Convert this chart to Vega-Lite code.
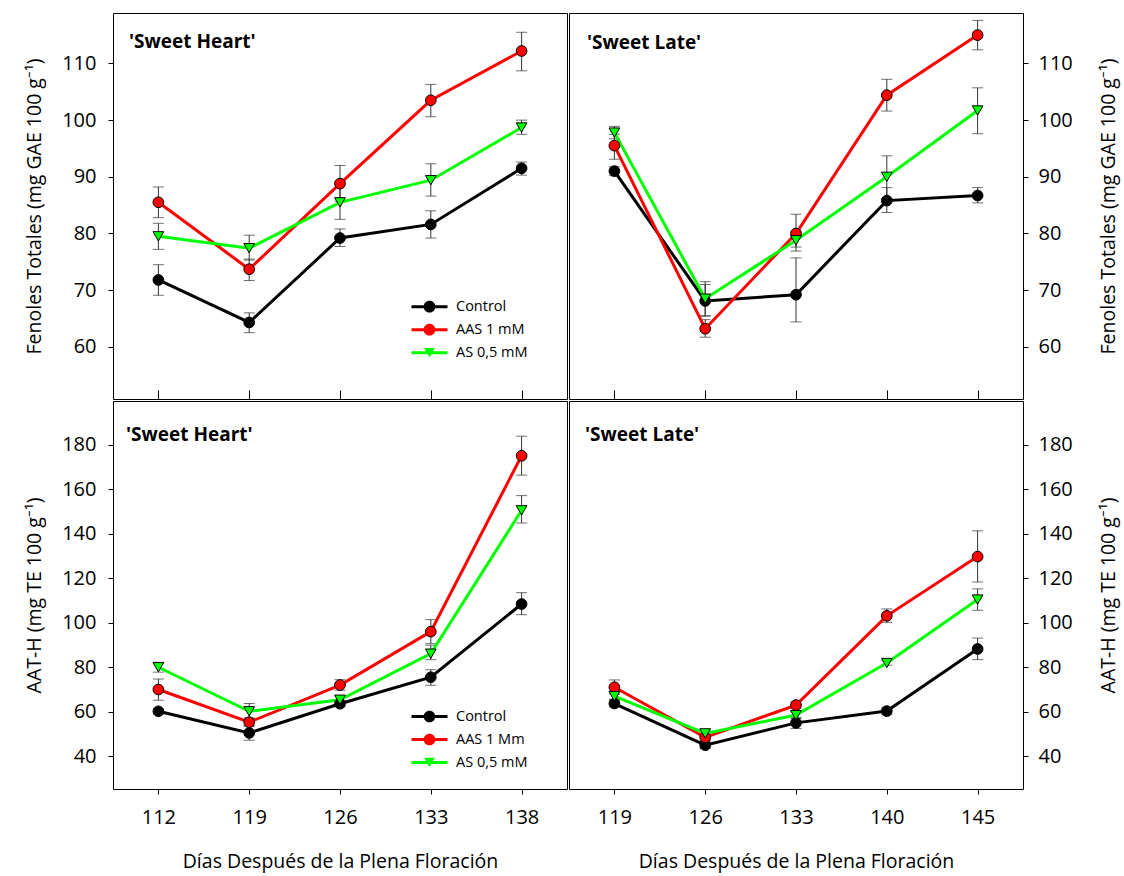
{
  "$schema": "https://vega.github.io/schema/vega-lite/v6.json",
  "background": "white",
  "padding": {"left": 24, "top": 12, "right": 6, "bottom": 4},
  "datasets": {
    "obs": [
      {"p":"SHF","d":112,"t":"Control","v":71.8,"lo":69.1,"hi":74.5},
      {"p":"SHF","d":119,"t":"Control","v":64.3,"lo":62.5,"hi":66.0},
      {"p":"SHF","d":126,"t":"Control","v":79.2,"lo":77.7,"hi":80.8},
      {"p":"SHF","d":133,"t":"Control","v":81.6,"lo":79.2,"hi":84.0},
      {"p":"SHF","d":138,"t":"Control","v":91.5,"lo":90.3,"hi":92.6},
      {"p":"SHF","d":112,"t":"AAS 1 mM","v":85.5,"lo":82.8,"hi":88.2},
      {"p":"SHF","d":119,"t":"AAS 1 mM","v":73.7,"lo":71.7,"hi":75.5},
      {"p":"SHF","d":126,"t":"AAS 1 mM","v":88.8,"lo":85.7,"hi":92.0},
      {"p":"SHF","d":133,"t":"AAS 1 mM","v":103.5,"lo":100.6,"hi":106.3},
      {"p":"SHF","d":138,"t":"AAS 1 mM","v":112.2,"lo":108.7,"hi":115.5},
      {"p":"SHF","d":112,"t":"AS 0,5 mM","v":79.5,"lo":77.2,"hi":81.8},
      {"p":"SHF","d":119,"t":"AS 0,5 mM","v":77.4,"lo":75.3,"hi":79.7},
      {"p":"SHF","d":126,"t":"AS 0,5 mM","v":85.5,"lo":82.5,"hi":88.5},
      {"p":"SHF","d":133,"t":"AS 0,5 mM","v":89.4,"lo":86.6,"hi":92.3},
      {"p":"SHF","d":138,"t":"AS 0,5 mM","v":98.7,"lo":97.5,"hi":100.0},

      {"p":"SLF","d":119,"t":"Control","v":91.0,"lo":90.2,"hi":91.8},
      {"p":"SLF","d":126,"t":"Control","v":68.1,"lo":65.5,"hi":71.0},
      {"p":"SLF","d":133,"t":"Control","v":69.2,"lo":64.4,"hi":75.7},
      {"p":"SLF","d":140,"t":"Control","v":85.8,"lo":83.7,"hi":88.1},
      {"p":"SLF","d":145,"t":"Control","v":86.7,"lo":85.4,"hi":88.1},
      {"p":"SLF","d":119,"t":"AAS 1 mM","v":95.5,"lo":93.1,"hi":97.5},
      {"p":"SLF","d":126,"t":"AAS 1 mM","v":63.2,"lo":61.7,"hi":64.8},
      {"p":"SLF","d":133,"t":"AAS 1 mM","v":80.0,"lo":76.9,"hi":83.4},
      {"p":"SLF","d":140,"t":"AAS 1 mM","v":104.4,"lo":101.6,"hi":107.2},
      {"p":"SLF","d":145,"t":"AAS 1 mM","v":115.0,"lo":112.4,"hi":117.6},
      {"p":"SLF","d":119,"t":"AS 0,5 mM","v":97.8,"lo":96.7,"hi":98.9},
      {"p":"SLF","d":126,"t":"AS 0,5 mM","v":68.5,"lo":65.4,"hi":71.5},
      {"p":"SLF","d":133,"t":"AS 0,5 mM","v":78.8,"lo":77.6,"hi":80.3},
      {"p":"SLF","d":140,"t":"AS 0,5 mM","v":90.0,"lo":86.2,"hi":93.7},
      {"p":"SLF","d":145,"t":"AS 0,5 mM","v":101.7,"lo":97.6,"hi":105.7},

      {"p":"SHA","d":112,"t":"Control","v":60.2,"lo":59.0,"hi":61.4},
      {"p":"SHA","d":119,"t":"Control","v":50.5,"lo":47.2,"hi":53.8},
      {"p":"SHA","d":126,"t":"Control","v":63.6,"lo":62.2,"hi":65.0},
      {"p":"SHA","d":133,"t":"Control","v":75.5,"lo":71.9,"hi":78.9},
      {"p":"SHA","d":138,"t":"Control","v":108.4,"lo":103.6,"hi":113.5},
      {"p":"SHA","d":112,"t":"AAS 1 Mm","v":70.0,"lo":65.2,"hi":74.7},
      {"p":"SHA","d":119,"t":"AAS 1 Mm","v":55.3,"lo":53.3,"hi":57.3},
      {"p":"SHA","d":126,"t":"AAS 1 Mm","v":72.0,"lo":69.7,"hi":74.4},
      {"p":"SHA","d":133,"t":"AAS 1 Mm","v":96.0,"lo":90.6,"hi":101.4},
      {"p":"SHA","d":138,"t":"AAS 1 Mm","v":175.0,"lo":166.3,"hi":183.8},
      {"p":"SHA","d":112,"t":"AS 0,5 mM","v":80.0,"lo":77.8,"hi":82.2},
      {"p":"SHA","d":119,"t":"AS 0,5 mM","v":60.2,"lo":56.8,"hi":63.7},
      {"p":"SHA","d":126,"t":"AS 0,5 mM","v":65.4,"lo":63.9,"hi":66.9},
      {"p":"SHA","d":133,"t":"AS 0,5 mM","v":86.1,"lo":83.4,"hi":89.9},
      {"p":"SHA","d":138,"t":"AS 0,5 mM","v":150.5,"lo":144.8,"hi":157.1},

      {"p":"SLA","d":119,"t":"Control","v":63.7,"lo":62.2,"hi":65.2},
      {"p":"SLA","d":126,"t":"Control","v":45.0,"lo":43.5,"hi":46.5},
      {"p":"SLA","d":133,"t":"Control","v":55.0,"lo":52.5,"hi":57.5},
      {"p":"SLA","d":140,"t":"Control","v":60.3,"lo":58.8,"hi":61.8},
      {"p":"SLA","d":145,"t":"Control","v":88.2,"lo":83.4,"hi":93.1},
      {"p":"SLA","d":119,"t":"AAS 1 Mm","v":71.0,"lo":67.9,"hi":74.3},
      {"p":"SLA","d":126,"t":"AAS 1 Mm","v":48.5,"lo":47.0,"hi":50.0},
      {"p":"SLA","d":133,"t":"AAS 1 Mm","v":63.0,"lo":61.5,"hi":64.5},
      {"p":"SLA","d":140,"t":"AAS 1 Mm","v":103.1,"lo":100.2,"hi":106.2},
      {"p":"SLA","d":145,"t":"AAS 1 Mm","v":129.7,"lo":118.3,"hi":141.3},
      {"p":"SLA","d":119,"t":"AS 0,5 mM","v":67.0,"lo":65.5,"hi":68.5},
      {"p":"SLA","d":126,"t":"AS 0,5 mM","v":50.3,"lo":48.8,"hi":51.8},
      {"p":"SLA","d":133,"t":"AS 0,5 mM","v":58.5,"lo":57.0,"hi":60.0},
      {"p":"SLA","d":140,"t":"AS 0,5 mM","v":81.9,"lo":80.9,"hi":82.9},
      {"p":"SLA","d":145,"t":"AS 0,5 mM","v":110.4,"lo":105.6,"hi":115.2}
    ]
  },
  "data": {"name": "obs"},
  "columns": 2,
  "spacing": 0,
  "concat": [
    {
      "width": 454, "height": 386,
      "title": {"text": "'Sweet Heart'", "anchor": "start", "frame": "group", "offset": -54, "dx": 16, "baseline": "alphabetic", "fontSize": 19, "fontWeight": "bold", "font": "Open Sans", "color": "black"},
      "transform": [{"filter": "datum.p === 'SHF'"}],
      "encoding": {"x": {"field": "d", "type": "ordinal", "scale": {"type": "point", "padding": 0.5}, "axis": {"labels": false, "title": null, "tickSize": -9}}},
      "layer": [
        {"mark": {"type": "errorbar", "ticks": {"size": 11, "color": "#333333"}, "rule": {"color": "#333333", "strokeWidth": 1}},
         "encoding": {"y": {"field": "lo", "type": "quantitative", "scale": {"domain": [50.8, 118.9], "nice": false, "zero": false}, "axis": {"values": [60,70,80,90,100,110], "title": "Fenoles Totales (mg GAE 100 g⁻¹)", "tickSize": 5, "labelPadding": 12, "titlePadding": 17}}, "y2": {"field": "hi"}}},
        {"mark": {"type": "line", "strokeWidth": 3},
         "encoding": {"y": {"field": "v", "type": "quantitative", "scale": {"domain": [50.8, 118.9], "nice": false, "zero": false}, "axis": {"values": [60,70,80,90,100,110], "title": "Fenoles Totales (mg GAE 100 g⁻¹)", "tickSize": 5, "labelPadding": 12, "titlePadding": 17}},
          "stroke": {"field": "t", "type": "nominal", "scale": {"range": ["#ff0000","#00ff00","#000000"]}, "legend": null}}},
        {"mark": {"type": "point", "filled": true, "opacity": 1, "size": 115, "stroke": "black", "strokeWidth": 1},
         "encoding": {"y": {"field": "v", "type": "quantitative", "scale": {"domain": [50.8, 118.9], "nice": false, "zero": false}, "axis": {"values": [60,70,80,90,100,110], "title": "Fenoles Totales (mg GAE 100 g⁻¹)", "tickSize": 5, "labelPadding": 12, "titlePadding": 17}},
          "color": {"field": "t", "type": "nominal", "scale": {"domain": ["Control","AAS 1 mM","AS 0,5 mM"], "range": ["#000000","#ff0000","#00ff00"]},
            "legend": {"orient": "none", "legendX": 307.5, "legendY": 284.7, "title": null, "padding": 0, "symbolSize": 324, "labelOffset": 17.5, "labelFont": "Open Sans", "labelFontSize": 14.5, "labelColor": "black", "rowPadding": 7, "labelLimit": 300,
              "encoding": {"symbols": {"shape": {"condition": {"test": "datum.value === 'AS 0,5 mM'", "value": "M-2,-0.167H2V0.167H-2Z M0,0.516L-0.596,-0.516L0.596,-0.516Z"}, "value": "M-2,-0.167H2V0.167H-2Z M-0.65,0A0.65,0.65,0,1,1,0.65,0A0.65,0.65,0,1,1,-0.65,0Z"}, "strokeWidth": {"value": 0}, "opacity": {"value": 1}}}}},
          "shape": {"field": "t", "type": "nominal", "scale": {"range": ["circle","triangle-down","circle"]}, "legend": null}}}
      ]
    },
    {
      "width": 454, "height": 386,
      "title": {"text": "'Sweet Late'", "anchor": "start", "frame": "group", "offset": -55, "dx": 18, "baseline": "alphabetic", "fontSize": 19, "fontWeight": "bold", "font": "Open Sans", "color": "black"},
      "transform": [{"filter": "datum.p === 'SLF'"}],
      "encoding": {"x": {"field": "d", "type": "ordinal", "scale": {"type": "point", "padding": 0.5}, "axis": {"labels": false, "title": null, "tickSize": -9}}},
      "layer": [
        {"mark": {"type": "errorbar", "ticks": {"size": 11, "color": "#333333"}, "rule": {"color": "#333333", "strokeWidth": 1}},
         "encoding": {"y": {"field": "lo", "type": "quantitative", "scale": {"domain": [50.8, 118.9], "nice": false, "zero": false}, "axis": {"orient": "right", "values": [60,70,80,90,100,110], "title": "Fenoles Totales (mg GAE 100 g⁻¹)", "tickSize": 5, "labelPadding": 10, "titlePadding": 27, "titleAngle": -90, "titleBaseline": "top"}}, "y2": {"field": "hi"}}},
        {"mark": {"type": "line", "strokeWidth": 3},
         "encoding": {"y": {"field": "v", "type": "quantitative", "scale": {"domain": [50.8, 118.9], "nice": false, "zero": false}, "axis": {"orient": "right", "values": [60,70,80,90,100,110], "title": "Fenoles Totales (mg GAE 100 g⁻¹)", "tickSize": 5, "labelPadding": 10, "titlePadding": 27, "titleAngle": -90, "titleBaseline": "top"}},
          "stroke": {"field": "t", "type": "nominal", "scale": {"range": ["#ff0000","#00ff00","#000000"]}, "legend": null}}},
        {"mark": {"type": "point", "filled": true, "opacity": 1, "size": 115, "stroke": "black", "strokeWidth": 1},
         "encoding": {"y": {"field": "v", "type": "quantitative", "scale": {"domain": [50.8, 118.9], "nice": false, "zero": false}, "axis": {"orient": "right", "values": [60,70,80,90,100,110], "title": "Fenoles Totales (mg GAE 100 g⁻¹)", "tickSize": 5, "labelPadding": 10, "titlePadding": 27, "titleAngle": -90, "titleBaseline": "top"}},
          "color": {"field": "t", "type": "nominal", "scale": {"domain": ["Control","AAS 1 mM","AS 0,5 mM"], "range": ["#000000","#ff0000","#00ff00"]}, "legend": null},
          "shape": {"field": "t", "type": "nominal", "scale": {"range": ["circle","triangle-down","circle"]}, "legend": null}}}
      ]
    },
    {
      "width": 454, "height": 388,
      "title": {"text": "'Sweet Heart'", "anchor": "start", "frame": "group", "offset": -59, "dx": 13, "baseline": "alphabetic", "fontSize": 19, "fontWeight": "bold", "font": "Open Sans", "color": "black"},
      "transform": [{"filter": "datum.p === 'SHA'"}],
      "encoding": {"x": {"field": "d", "type": "ordinal", "scale": {"type": "point", "padding": 0.5}, "axis": {"title": "Días Después de la Plena Floración", "tickSize": 5, "labelPadding": 13, "titlePadding": 25, "labelAngle": 0}}},
      "layer": [
        {"mark": {"type": "errorbar", "ticks": {"size": 11, "color": "#333333"}, "rule": {"color": "#333333", "strokeWidth": 1}},
         "encoding": {"y": {"field": "lo", "type": "quantitative", "scale": {"domain": [25.3, 199.6], "nice": false, "zero": false}, "axis": {"values": [40,60,80,100,120,140,160,180], "title": "AAT-H (mg TE 100 g⁻¹)", "tickSize": 5, "labelPadding": 12, "titlePadding": 17}}, "y2": {"field": "hi"}}},
        {"mark": {"type": "line", "strokeWidth": 3},
         "encoding": {"y": {"field": "v", "type": "quantitative", "scale": {"domain": [25.3, 199.6], "nice": false, "zero": false}, "axis": {"values": [40,60,80,100,120,140,160,180], "title": "AAT-H (mg TE 100 g⁻¹)", "tickSize": 5, "labelPadding": 12, "titlePadding": 17}},
          "stroke": {"field": "t", "type": "nominal", "scale": {"range": ["#ff0000","#00ff00","#000000"]}, "legend": null}}},
        {"mark": {"type": "point", "filled": true, "opacity": 1, "size": 115, "stroke": "black", "strokeWidth": 1},
         "encoding": {"y": {"field": "v", "type": "quantitative", "scale": {"domain": [25.3, 199.6], "nice": false, "zero": false}, "axis": {"values": [40,60,80,100,120,140,160,180], "title": "AAT-H (mg TE 100 g⁻¹)", "tickSize": 5, "labelPadding": 12, "titlePadding": 17}},
          "color": {"field": "t", "type": "nominal", "scale": {"domain": ["Control","AAS 1 Mm","AS 0,5 mM"], "range": ["#000000","#ff0000","#00ff00"]},
            "legend": {"orient": "none", "legendX": 307.5, "legendY": 306.5, "title": null, "padding": 0, "symbolSize": 324, "labelOffset": 17.5, "labelFont": "Open Sans", "labelFontSize": 14.5, "labelColor": "black", "rowPadding": 7, "labelLimit": 300,
              "encoding": {"symbols": {"shape": {"condition": {"test": "datum.value === 'AS 0,5 mM'", "value": "M-2,-0.167H2V0.167H-2Z M0,0.516L-0.596,-0.516L0.596,-0.516Z"}, "value": "M-2,-0.167H2V0.167H-2Z M-0.65,0A0.65,0.65,0,1,1,0.65,0A0.65,0.65,0,1,1,-0.65,0Z"}, "strokeWidth": {"value": 0}, "opacity": {"value": 1}}}}},
          "shape": {"field": "t", "type": "nominal", "scale": {"range": ["circle","triangle-down","circle"]}, "legend": null}}}
      ]
    },
    {
      "width": 454, "height": 388,
      "title": {"text": "'Sweet Late'", "anchor": "start", "frame": "group", "offset": -59, "dx": 16, "baseline": "alphabetic", "fontSize": 19, "fontWeight": "bold", "font": "Open Sans", "color": "black"},
      "transform": [{"filter": "datum.p === 'SLA'"}],
      "encoding": {"x": {"field": "d", "type": "ordinal", "scale": {"type": "point", "padding": 0.5}, "axis": {"title": "Días Después de la Plena Floración", "tickSize": 5, "labelPadding": 13, "titlePadding": 25, "labelAngle": 0}}},
      "layer": [
        {"mark": {"type": "errorbar", "ticks": {"size": 11, "color": "#333333"}, "rule": {"color": "#333333", "strokeWidth": 1}},
         "encoding": {"y": {"field": "lo", "type": "quantitative", "scale": {"domain": [25.3, 199.6], "nice": false, "zero": false}, "axis": {"orient": "right", "values": [40,60,80,100,120,140,160,180], "title": "AAT-H (mg TE 100 g⁻¹)", "tickSize": 5, "labelPadding": 10, "titlePadding": 27, "titleAngle": -90, "titleBaseline": "top"}}, "y2": {"field": "hi"}}},
        {"mark": {"type": "line", "strokeWidth": 3},
         "encoding": {"y": {"field": "v", "type": "quantitative", "scale": {"domain": [25.3, 199.6], "nice": false, "zero": false}, "axis": {"orient": "right", "values": [40,60,80,100,120,140,160,180], "title": "AAT-H (mg TE 100 g⁻¹)", "tickSize": 5, "labelPadding": 10, "titlePadding": 27, "titleAngle": -90, "titleBaseline": "top"}},
          "stroke": {"field": "t", "type": "nominal", "scale": {"range": ["#ff0000","#00ff00","#000000"]}, "legend": null}}},
        {"mark": {"type": "point", "filled": true, "opacity": 1, "size": 115, "stroke": "black", "strokeWidth": 1},
         "encoding": {"y": {"field": "v", "type": "quantitative", "scale": {"domain": [25.3, 199.6], "nice": false, "zero": false}, "axis": {"orient": "right", "values": [40,60,80,100,120,140,160,180], "title": "AAT-H (mg TE 100 g⁻¹)", "tickSize": 5, "labelPadding": 10, "titlePadding": 27, "titleAngle": -90, "titleBaseline": "top"}},
          "color": {"field": "t", "type": "nominal", "scale": {"domain": ["Control","AAS 1 Mm","AS 0,5 mM"], "range": ["#000000","#ff0000","#00ff00"]}, "legend": null},
          "shape": {"field": "t", "type": "nominal", "scale": {"range": ["circle","triangle-down","circle"]}, "legend": null}}}
      ]
    }
  ],
  "resolve": {
    "scale": {"x": "independent", "y": "independent", "color": "independent", "stroke": "independent", "shape": "independent"},
    "axis": {"x": "independent", "y": "independent"},
    "legend": {"color": "independent", "stroke": "independent", "shape": "independent"}
  },
  "config": {
    "font": "Open Sans",
    "view": {"stroke": "black", "strokeWidth": 1},
    "axis": {"grid": false, "domain": false, "ticks": true, "tickColor": "black", "tickWidth": 1, "labelFont": "Open Sans", "labelFontSize": 20, "labelColor": "black", "titleFont": "Open Sans", "titleFontSize": 19.5, "titleFontWeight": "normal", "titleColor": "black"}
  }
}
